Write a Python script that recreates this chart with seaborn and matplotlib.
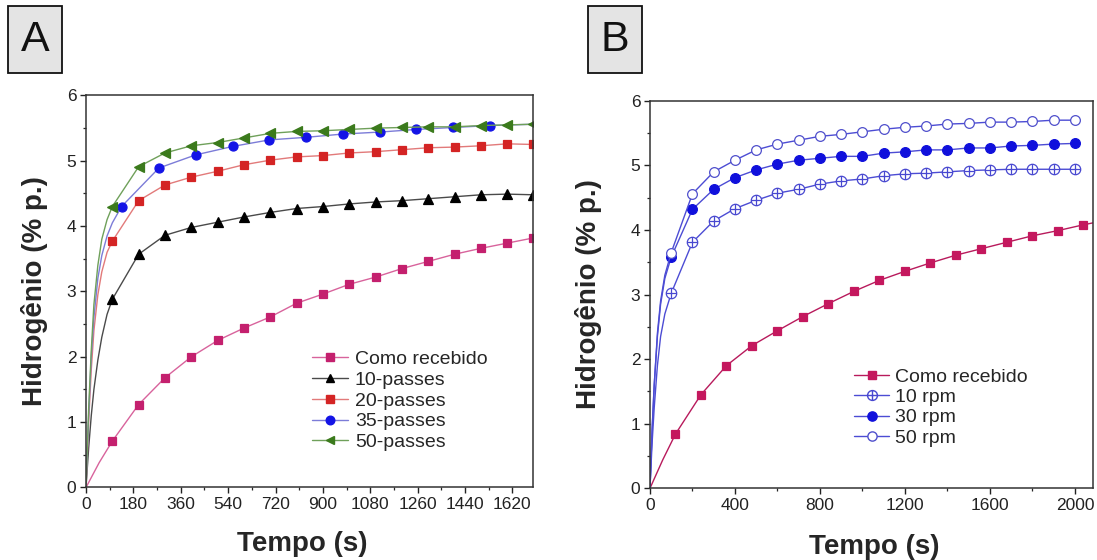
import numpy as np
import pandas as pd
import matplotlib
matplotlib.use("Agg")
import matplotlib.pyplot as plt
from matplotlib.lines import Line2D
from matplotlib.patches import Rectangle
from matplotlib.path import Path
from matplotlib.ticker import MultipleLocator
import seaborn as sns

# ---------------- Panel A: number of passes ----------------
a_series = ["Como recebido", "10-passes", "20-passes", "35-passes", "50-passes"]

# start of each absorption curve (before the first marker)
a_como_early_t = [0, 50]
a_como_early_h = [0, 0.38]
a_10_early_t = [0, 10, 20, 30, 45, 60, 80]
a_10_early_h = [0, 0.6, 1.1, 1.5, 1.95, 2.3, 2.65]
a_20_early_t = [0, 10, 20, 30, 45, 60, 80]
a_20_early_h = [0, 1.0, 1.8, 2.4, 2.95, 3.3, 3.6]
a_35_early_t = [0, 10, 20, 30, 45, 60, 80, 100]
a_35_early_h = [0, 1.1, 2.0, 2.6, 3.2, 3.55, 3.85, 4.05]
a_50_early_t = [0, 10, 20, 30, 45, 60, 80]
a_50_early_h = [0, 1.2, 2.1, 2.8, 3.4, 3.8, 4.1]

# marked points
a_t = [100, 200, 300, 400, 500, 600, 700, 800, 900, 1000, 1100, 1200, 1300, 1400, 1500, 1600, 1700]
a_como_h = [0.71, 1.27, 1.68, 2.00, 2.25, 2.44, 2.61, 2.82, 2.96, 3.11, 3.22, 3.35, 3.46, 3.57, 3.66, 3.74, 3.82]
a_10_h = [2.88, 3.57, 3.86, 3.98, 4.06, 4.14, 4.21, 4.27, 4.30, 4.34, 4.37, 4.39, 4.42, 4.45, 4.48, 4.49, 4.48]
a_20_h = [3.77, 4.39, 4.63, 4.75, 4.84, 4.94, 5.01, 5.06, 5.08, 5.12, 5.14, 5.17, 5.20, 5.21, 5.23, 5.26, 5.25]
a_35_t = [135, 277, 416, 557, 696, 837, 977, 1116, 1255, 1394, 1536]
a_35_h = [4.30, 4.89, 5.09, 5.22, 5.32, 5.36, 5.41, 5.44, 5.48, 5.51, 5.54]
a_35_tail_t = [1700]
a_35_tail_h = [5.56]
a_50_h = [4.30, 4.91, 5.12, 5.23, 5.28, 5.35, 5.42, 5.45, 5.46, 5.48, 5.50, 5.51, 5.52, 5.52, 5.54, 5.55, 5.56]

a_xticks = [0, 180, 360, 540, 720, 900, 1080, 1260, 1440, 1620]

# ---------------- Panel B: rotation speed ----------------
b_series = ["Como recebido", "10 rpm", "30 rpm", "50 rpm"]

b_como_early_t = [0, 60]
b_como_early_h = [0, 0.44]
b_10_early_t = [0, 10, 20, 35, 50, 70]
b_10_early_h = [0, 0.7, 1.25, 1.9, 2.35, 2.7]
b_30_early_t = [0, 10, 20, 35, 50, 70]
b_30_early_h = [0, 0.9, 1.6, 2.35, 2.85, 3.25]
b_50_early_t = [0, 10, 20, 35, 50, 70]
b_50_early_h = [0, 0.9, 1.6, 2.4, 2.9, 3.3]

b_como_t = [120, 240, 360, 480, 600, 720, 840, 960, 1080, 1200, 1320, 1440, 1560, 1680, 1800, 1920, 2040]
b_como_h = [0.84, 1.45, 1.90, 2.21, 2.44, 2.66, 2.86, 3.05, 3.22, 3.36, 3.49, 3.61, 3.71, 3.81, 3.91, 3.99, 4.08]
b_como_tail_t = [2085]
b_como_tail_h = [4.11]

b_t = [100, 200, 300, 400, 500, 600, 700, 800, 900, 1000, 1100, 1200, 1300, 1400, 1500, 1600, 1700, 1800, 1900, 2000]
b_10_h = [3.02, 3.81, 4.14, 4.33, 4.46, 4.57, 4.63, 4.71, 4.76, 4.79, 4.84, 4.87, 4.88, 4.90, 4.92, 4.93, 4.94, 4.94, 4.94, 4.94]
b_30_h = [3.58, 4.32, 4.63, 4.81, 4.93, 5.02, 5.08, 5.11, 5.14, 5.14, 5.19, 5.21, 5.24, 5.24, 5.27, 5.27, 5.30, 5.31, 5.33, 5.34]
b_50_h = [3.65, 4.56, 4.90, 5.08, 5.24, 5.33, 5.39, 5.45, 5.48, 5.52, 5.56, 5.59, 5.61, 5.64, 5.65, 5.67, 5.67, 5.68, 5.70, 5.70]

b_xticks = [0, 400, 800, 1200, 1600, 2000]
yticks = [0, 1, 2, 3, 4, 5, 6]

# ---------------- style ----------------
sns.set_theme(style="ticks")
plt.rcParams["font.family"] = ["Liberation Sans", "DejaVu Sans"]
plt.rcParams["axes.edgecolor"] = "#333333"
plt.rcParams["axes.linewidth"] = 1.1

# circle with a cross inside, used for the 10 rpm series
oplus = Path.make_compound_path(
    Path.unit_circle(),
    Path([[-1, 0], [1, 0], [0, -1], [0, 1]],
         [Path.MOVETO, Path.LINETO, Path.MOVETO, Path.LINETO]),
)


def curve(early_t, early_h, t, h, tail_t=(), tail_h=()):
    return pd.DataFrame({"t": list(early_t) + list(t) + list(tail_t),
                         "h": list(early_h) + list(h) + list(tail_h)})


def draw(ax, df_line, t, h, line_color, mk, mk_face, mk_edge, ms):
    sns.lineplot(data=df_line, x="t", y="h", ax=ax, color=line_color, lw=1.0,
                 sort=False, estimator=None)
    ax.plot(t, h, linestyle="none", marker=mk, markersize=ms,
            markerfacecolor=mk_face, markeredgecolor=mk_edge, markeredgewidth=0.9)


def style_axes(ax, xmax, xticks, xminor, xlab_x, xlab_y, ylab_x):
    ax.set_xlim(0, xmax)
    ax.set_ylim(0, 6)
    ax.set_xticks(xticks)
    ax.set_yticks(yticks)
    ax.xaxis.set_minor_locator(MultipleLocator(xminor))
    ax.yaxis.set_minor_locator(MultipleLocator(0.5))
    ax.tick_params(which="major", direction="out", length=4, width=1.0,
                   labelsize=12.5, colors="#222222", pad=3)
    ax.tick_params(which="minor", direction="out", length=2.5, width=0.9)
    ax.tick_params(top=False, right=False)
    for s in ax.spines.values():
        s.set_visible(True)
    ax.set_xlabel("Tempo (s)", fontsize=20, fontweight="bold")
    ax.set_ylabel("Hidrogênio (% p.)", fontsize=20, fontweight="bold")
    ax.xaxis.set_label_coords(xlab_x, xlab_y)
    ax.yaxis.set_label_coords(ylab_x, 0.5)


fig = plt.figure(figsize=(10.97, 5.6), dpi=100)
axA = fig.add_axes([0.0784, 0.1295, 0.4072, 0.700])
axB = fig.add_axes([0.5925, 0.128, 0.4038, 0.692])

# ---- panel A ----
a_style = {
    "Como recebido": ("#d8639c", "s", "#c4206e", "#c4206e", 5.5),
    "10-passes": ("#4a4a4a", "^", "#000000", "#000000", 6.5),
    "20-passes": ("#e27a7a", "s", "#d42424", "#d42424", 5.5),
    "35-passes": ("#7c7cd8", "o", "#1414e6", "#1414e6", 6.5),
    "50-passes": ("#6fa05a", "<", "#3b7a1c", "#3b7a1c", 6.5),
}
draw(axA, curve(a_como_early_t, a_como_early_h, a_t, a_como_h), a_t, a_como_h,
     *a_style["Como recebido"])
draw(axA, curve(a_10_early_t, a_10_early_h, a_t, a_10_h), a_t, a_10_h, *a_style["10-passes"])
draw(axA, curve(a_20_early_t, a_20_early_h, a_t, a_20_h), a_t, a_20_h, *a_style["20-passes"])
draw(axA, curve(a_35_early_t, a_35_early_h, a_35_t, a_35_h, a_35_tail_t, a_35_tail_h),
     a_35_t, a_35_h, *a_style["35-passes"])
draw(axA, curve(a_50_early_t, a_50_early_h, a_t, a_50_h), a_t, a_50_h, *a_style["50-passes"])
style_axes(axA, 1697, a_xticks, 90, 0.484, -0.112, -0.085)

handles_a = [Line2D([], [], color=c, lw=1.0, marker=m, markerfacecolor=f,
                    markeredgecolor=e, markersize=s * 0.95)
             for (c, m, f, e, s) in (a_style[k] for k in a_series)]
axA.legend(handles_a, a_series, loc="upper left", bbox_to_anchor=(0.489, 0.369),
           frameon=False, fontsize=14, handlelength=1.85, handletextpad=0.35,
           labelspacing=0.16, borderaxespad=0)

# ---- panel B ----
rpm_line = "#4c4cd4"
b_style = {
    "Como recebido": ("#b81a5c", "s", "#c4185e", "#c4185e", 6.0),
    "10 rpm": (rpm_line, oplus, "white", "#4848d0", 7.5),
    "30 rpm": (rpm_line, "o", "#1010dc", "#1010dc", 7.0),
    "50 rpm": (rpm_line, "o", "white", "#5050cc", 7.0),
}
draw(axB, curve(b_como_early_t, b_como_early_h, b_como_t, b_como_h, b_como_tail_t, b_como_tail_h),
     b_como_t, b_como_h, *b_style["Como recebido"])
draw(axB, curve(b_10_early_t, b_10_early_h, b_t, b_10_h), b_t, b_10_h, *b_style["10 rpm"])
draw(axB, curve(b_30_early_t, b_30_early_h, b_t, b_30_h), b_t, b_30_h, *b_style["30 rpm"])
draw(axB, curve(b_50_early_t, b_50_early_h, b_t, b_50_h), b_t, b_50_h, *b_style["50 rpm"])
style_axes(axB, 2085, b_xticks, 200, 0.506, -0.118, -0.108)

handles_b = [Line2D([], [], color=c, lw=1.0, marker=m, markerfacecolor=f,
                    markeredgecolor=e, markersize=s * 0.95)
             for (c, m, f, e, s) in (b_style[k] for k in b_series)]
axB.legend(handles_b, b_series, loc="upper left", bbox_to_anchor=(0.444, 0.33),
           frameon=False, fontsize=14, handlelength=1.8, handletextpad=0.3,
           labelspacing=0.14, borderaxespad=0)

# ---- panel letters ----
for (x0, letter) in [(8, "A"), (588, "B")]:
    fig.patches.append(Rectangle((x0 / 1097, 1 - 73 / 560), 54 / 1097, 67 / 560,
                                 transform=fig.transFigure, facecolor="#e4e4e4",
                                 edgecolor="#111111", linewidth=1.3))
    fig.text((x0 + 27) / 1097, 1 - 40 / 560, letter, ha="center", va="center",
             fontsize=31, color="#111111")

fig.savefig("out.png", dpi=100)
